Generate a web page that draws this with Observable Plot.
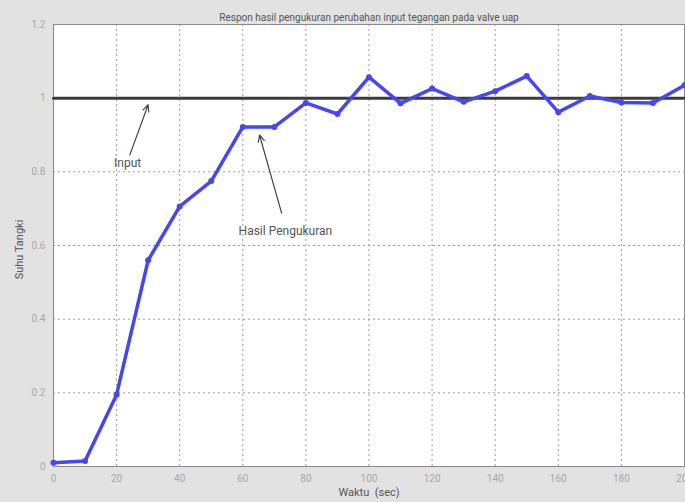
<!DOCTYPE html>
<html>
<head>
<meta charset="utf-8">
<script src="https://cdn.jsdelivr.net/npm/d3@7"></script>
<script src="https://cdn.jsdelivr.net/npm/@observablehq/plot@0.6"></script>
<style>
  html, body { margin: 0; padding: 0; background: #e2e2e2; }
  #chart { width: 685px; height: 502px; overflow: hidden; }
</style>
</head>
<body>
<div id="chart"></div>
<script>
const waktu = [0, 10, 20, 30, 40, 50, 60, 70, 80, 90, 100, 110, 120, 130, 140, 150, 160, 170, 180, 190, 200];
const hasil = [0.01, 0.015, 0.195, 0.56, 0.706, 0.775, 0.922, 0.922, 0.987, 0.957, 1.057, 0.986, 1.026, 0.99, 1.019, 1.06, 0.962, 1.006, 0.988, 0.987, 1.035];
const inputX = [0, 200];
const inputY = [1, 1];
const xTicks = [0, 20, 40, 60, 80, 100, 120, 140, 160, 180, 200];
const yTicks = [0, 0.2, 0.4, 0.6, 0.8, 1, 1.2];
const labels = ["Input", "Hasil Pengukuran"];
const labelX = [23.5, 73.5];
const labelY = [0.823, 0.638];
const arrowX1 = [24.2, 72.3];
const arrowY1 = [0.846, 0.688];
const arrowX2 = [30, 65.3];
const arrowY2 = [0.982, 0.9];

const series = waktu.map((w, i) => ({w, v: hasil[i]}));
const inputData = inputX.map((x, i) => ({x, y: inputY[i]}));
const notes = labels.map((t, i) => ({t, x: labelX[i], y: labelY[i], x1: arrowX1[i], y1: arrowY1[i], x2: arrowX2[i], y2: arrowY2[i]}));

const chart = Plot.plot({
  width: 685,
  height: 502,
  marginLeft: 53,
  marginRight: 1,
  marginTop: 24,
  marginBottom: 36,
  style: {background: "#e2e2e2", fontFamily: "Roboto, 'Liberation Sans', sans-serif", overflow: "visible"},
  x: {domain: [0, 200], ticks: xTicks, label: null},
  y: {domain: [0, 1.2], ticks: yTicks, label: null},
  marks: [
    Plot.frame({fill: "white", stroke: "none"}),
    Plot.gridX(xTicks, {stroke: "#9a9a9a", strokeOpacity: 1, strokeDasharray: "2,3", strokeWidth: 1}),
    Plot.gridY(yTicks, {stroke: "#9a9a9a", strokeOpacity: 1, strokeDasharray: "2,3", strokeWidth: 1}),
    Plot.frame({stroke: "#8a8a8a", strokeWidth: 1}),
    Plot.axisX({ticks: xTicks, tickSize: 0, tickPadding: 8, fontSize: 10, color: "#a8a8a8", tickFormat: d => String(d)}),
    Plot.axisY({ticks: yTicks, tickSize: 0, tickPadding: 8, fontSize: 10, color: "#a8a8a8", tickFormat: d => String(d)}),
    Plot.line(inputData, {x: "x", y: "y", stroke: "#3c3c3c", strokeWidth: 3}),
    Plot.line(series, {x: "w", y: "v", stroke: "#4646f5", strokeWidth: 3.5, strokeLinejoin: "round"}),
    Plot.dot(series, {x: "w", y: "v", r: 3, fill: "#4646f5", stroke: "none"}),
    Plot.arrow(notes, {x1: "x1", y1: "y1", x2: "x2", y2: "y2", stroke: "#444", strokeWidth: 1.2, headLength: 9, headAngle: 50}),
    Plot.text(notes, {x: "x", y: "y", text: "t", fontSize: 12, fill: "#555"}),
    Plot.text(["Respon hasil pengukuran perubahan input tegangan pada valve uap"], {frameAnchor: "top", dy: -11, fontSize: 10, fill: "#555"}),
    Plot.text(["Waktu  (sec)"], {frameAnchor: "bottom", dy: 29, fontSize: 11, fill: "#555"}),
    Plot.text(["Suhu Tangki"], {frameAnchor: "left", textAnchor: "middle", dx: -34, dy: 4, rotate: -90, fontSize: 11, fill: "#555"})
  ]
});
document.getElementById("chart").appendChild(chart);
</script>
</body>
</html>
